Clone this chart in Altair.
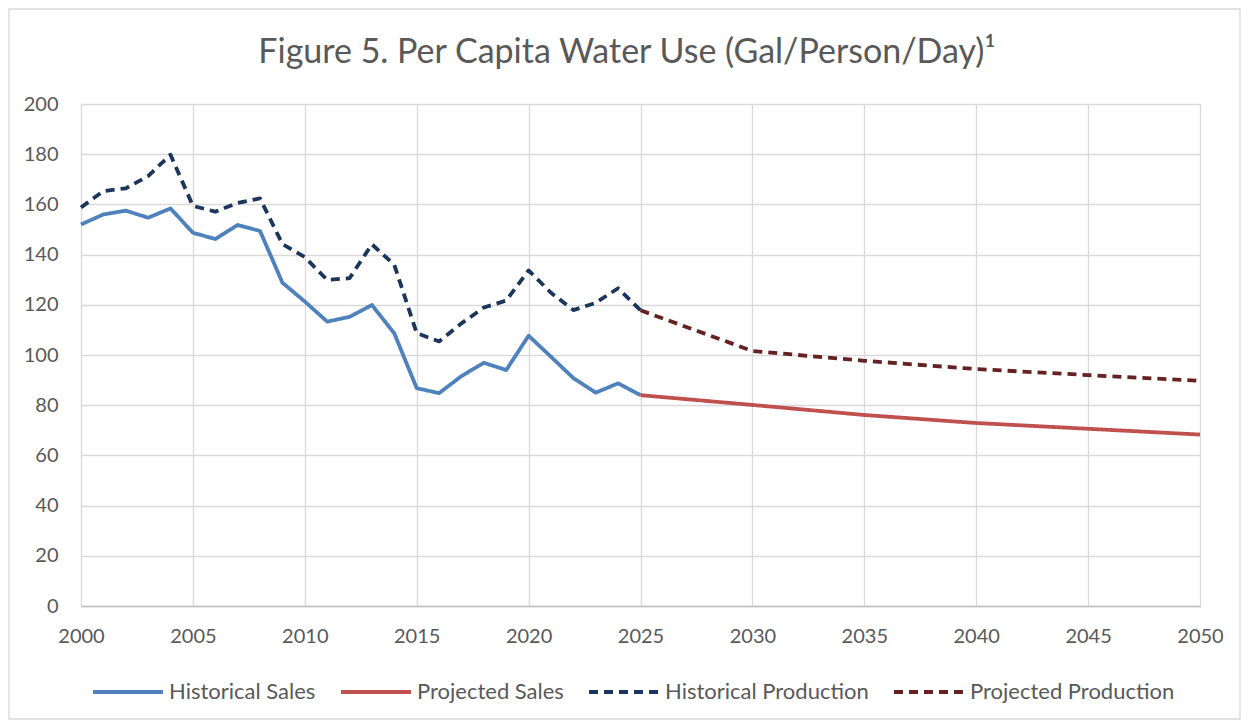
import altair as alt
import pandas as pd

hist_years = list(range(2000, 2026))
hist_sales = [152, 156, 157.5, 154.7, 158.4, 148.7, 146.2, 151.8, 149.4, 128.8,
              121.3, 113.3, 115.2, 119.9, 108.6, 86.8, 84.8, 91.6, 96.9, 94.0,
              107.7, 99.3, 90.8, 85.0, 88.7, 84.0]
hist_prod = [158.8, 165.3, 166.4, 171.3, 179.8, 159.4, 157.1, 160.6, 162.4, 144.2,
             139.0, 129.9, 130.6, 144.1, 135.9, 108.7, 105.4, 112.6, 118.9, 121.7,
             133.7, 124.8, 117.9, 120.8, 126.6, 117.8]
proj_years = [2025, 2030, 2035, 2040, 2045, 2050]
proj_sales = [84.0, 80.1, 76.1, 72.9, 70.6, 68.3]
proj_prod = [117.8, 101.6, 97.7, 94.4, 92.0, 89.7]

series_names = ["Historical Sales", "Projected Sales", "Historical Production", "Projected Production"]
series_colors = ["#4f81bd", "#c0504d", "#1b355b", "#662222"]
series_dash = [[1, 0], [1, 0], [9, 6], [9, 6]]
title_text = "Figure 5. Per Capita Water Use (Gal/Person/Day)¹"

rows = []
for y, v in zip(hist_years, hist_sales):
    rows.append({"year": y, "value": v, "series": series_names[0]})
for y, v in zip(proj_years, proj_sales):
    rows.append({"year": y, "value": v, "series": series_names[1]})
for y, v in zip(hist_years, hist_prod):
    rows.append({"year": y, "value": v, "series": series_names[2]})
for y, v in zip(proj_years, proj_prod):
    rows.append({"year": y, "value": v, "series": series_names[3]})
df = pd.DataFrame(rows)

FONT = "Lato"
TXT = "#595959"

legend_cfg = dict(title=None, orient="none", legendX=10, legendY=551,
                  direction="horizontal", columns=4,
                  symbolType="stroke", symbolSize=4900,
                  symbolStrokeWidth=3.8, labelFontSize=22,
                  labelColor=TXT, labelFont=FONT, labelOffset=4,
                  columnPadding=17, labelLimit=400)

lines = alt.Chart(df).mark_line(strokeWidth=3.8, strokeJoin="round").encode(
    x=alt.X("year:Q",
            scale=alt.Scale(domain=[2000, 2050], nice=False, zero=False),
            axis=alt.Axis(values=list(range(2000, 2051, 5)), format="d", title=None,
                          grid=True, gridColor="#d9d9d9", gridWidth=1.3,
                          domain=True, domainColor="#bfbfbf", domainWidth=1.3,
                          ticks=False, labelPadding=20, labelFontSize=20,
                          labelFlush=False, labelColor=TXT, labelFont=FONT)),
    y=alt.Y("value:Q",
            scale=alt.Scale(domain=[0, 200], nice=False),
            axis=alt.Axis(values=list(range(0, 201, 20)), title=None,
                          grid=True, gridColor="#d9d9d9", gridWidth=1.3,
                          domain=False, ticks=False, labelPadding=23,
                          labelFontSize=20, labelColor=TXT, labelFont=FONT)),
    color=alt.Color("series:N",
                    scale=alt.Scale(domain=series_names, range=series_colors),
                    legend=alt.Legend(**legend_cfg)),
    strokeDash=alt.StrokeDash("series:N",
                              scale=alt.Scale(domain=series_names, range=series_dash),
                              legend=alt.Legend(**legend_cfg)),
    detail="series:N",
)

one = pd.DataFrame({"a": [0]})

frame = alt.Chart(one).mark_rect(
    filled=False, stroke="#d9d9d9", strokeWidth=1.3
).encode(x=alt.value(-72), x2=alt.value(1159), y=alt.value(-95), y2=alt.value(615))

title = alt.Chart(one).mark_text(
    text=title_text, font=FONT, fontSize=34, color=TXT,
    align="center", baseline="alphabetic"
).encode(x=alt.value(546), y=alt.value(-41))

chart = alt.layer(frame, title, lines).properties(
    width=1119, height=502,
    autosize=alt.AutoSizeParams(type="none"),
    padding={"left": 73, "top": 96, "right": 41, "bottom": 114},
).configure_view(stroke=None)

chart.save("out.html", embed_options={"renderer": "svg", "actions": False})
